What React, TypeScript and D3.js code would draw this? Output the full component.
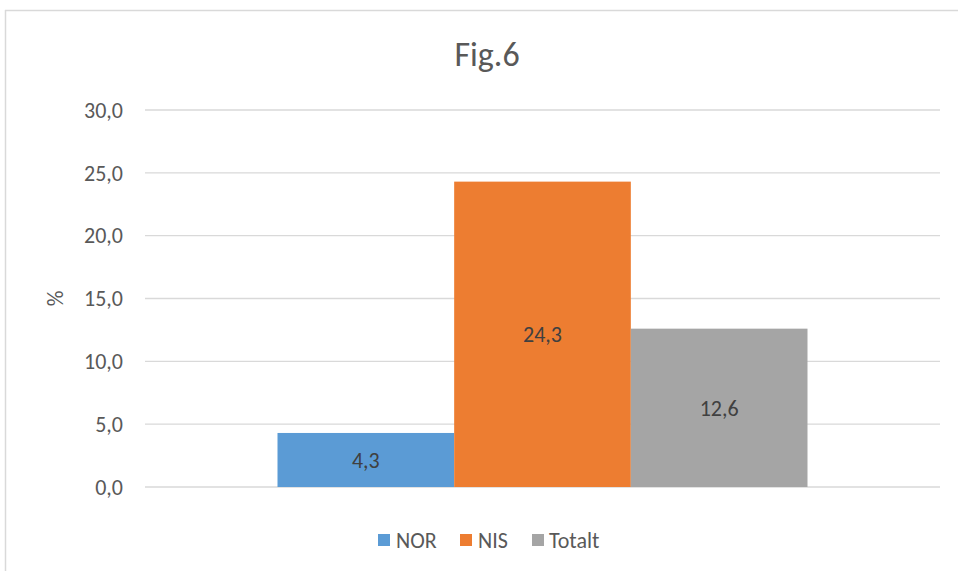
import React from "react";
import * as d3 from "d3";

const title = "Fig.6";
const yAxisTitle = "%";
const seriesNames = ["NOR", "NIS", "Totalt"];
const seriesValues = [4.3, 24.3, 12.6];
const seriesColors = ["#5B9BD5", "#ED7D31", "#A5A5A5"];
const yTicks = [0, 5, 10, 15, 20, 25, 30];

const W = 958;
const H = 571;
const plot = { left: 145, right: 940, top: 110, bottom: 487 };
const font = "Calibri, Carlito, 'Open Sans', 'Noto Sans', sans-serif";
const fmt = (v: number) => v.toFixed(1).replace(".", ",");

export default function App() {
  const y = d3.scaleLinear().domain([0, 30]).range([plot.bottom, plot.top]);
  const x = d3
    .scaleBand<string>()
    .domain(seriesNames)
    .range([plot.left, plot.right])
    .paddingInner(0)
    .paddingOuter(0.75);

  const legendItems = [
    { x: 378, tx: 396 },
    { x: 460, tx: 478 },
    { x: 532, tx: 549 },
  ];

  return (
    <svg
      width={W}
      height={H}
      style={{ position: "absolute", left: 0, top: 0, background: "#fff" }}
      fontFamily={font}
    >
      <rect x={0} y={0} width={W} height={H} fill="#fff" />
      <line x1={5} y1={10.5} x2={W} y2={10.5} stroke="#d9d9d9" strokeWidth={1.5} />
      <line x1={5.5} y1={10} x2={5.5} y2={H} stroke="#d9d9d9" strokeWidth={1.5} />

      <text x={487} y={66} textAnchor="middle" fontSize={34} fill="#595959">
        {title}
      </text>

      {yTicks.map((t) => (
        <g key={t}>
          <line
            x1={plot.left}
            x2={plot.right}
            y1={y(t)}
            y2={y(t)}
            stroke="#d9d9d9"
            strokeWidth={1.3}
          />
          <text
            x={123}
            y={y(t)}
            dy="0.35em"
            textAnchor="end"
            fontSize={22}
            fill="#595959"
          >
            {fmt(t)}
          </text>
        </g>
      ))}

      <text
        transform={`translate(63,${(plot.top + plot.bottom) / 2}) rotate(-90)`}
        textAnchor="middle"
        fontSize={22}
        fill="#595959"
      >
        {yAxisTitle}
      </text>

      {seriesNames.map((s, i) => {
        const v = seriesValues[i];
        const bx = x(s)!;
        const bw = x.bandwidth();
        return (
          <g key={s}>
            <rect
              x={bx}
              y={y(v)}
              width={bw}
              height={y(0) - y(v)}
              fill={seriesColors[i]}
            />
            <text
              x={bx + bw / 2}
              y={(y(v) + y(0)) / 2}
              dy="0.35em"
              textAnchor="middle"
              fontSize={22}
              fill="#404040"
            >
              {fmt(v)}
            </text>
          </g>
        );
      })}

      {seriesNames.map((s, i) => (
        <g key={"lg" + s}>
          <rect x={legendItems[i].x} y={534} width={12} height={12} fill={seriesColors[i]} />
          <text x={legendItems[i].tx} y={540} dy="0.35em" fontSize={22} fill="#595959">
            {s}
          </text>
        </g>
      ))}
    </svg>
  );
}
